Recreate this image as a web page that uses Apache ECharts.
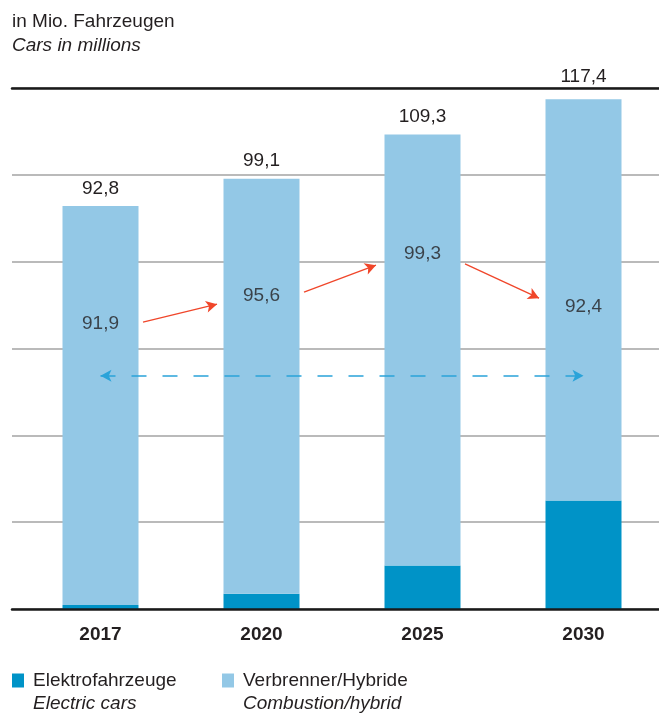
<!DOCTYPE html>
<html>
<head>
<meta charset="utf-8">
<script src="https://cdn.jsdelivr.net/npm/echarts@6/dist/echarts.min.js"></script>
<style>
  html, body { margin: 0; padding: 0; background: #fff; }
  #chart { width: 659px; height: 713px; }
</style>
</head>
<body>
<div id="chart"></div>
<script>
// Passenger car fleet in millions, split by drive type
const years = ['2017', '2020', '2025', '2030'];
const electric = [0.9, 3.5, 10.0, 25.0];
const combustion = [91.9, 95.6, 99.3, 92.4];

// Value axis ticks
const yMin = 0, yMax = 120, yStep = 20;

// Series names (German) and their English subtitles
const nameElectric = 'Elektrofahrzeuge';
const nameCombustion = 'Verbrenner/Hybride';
const englishNames = { 'Elektrofahrzeuge': 'Electric cars', 'Verbrenner/Hybride': 'Combustion/hybrid' };

// Heights (in axis units) where the combustion values are printed inside the bars
const innerLabelLevels = [65.6, 72.1, 81.8, 69.6];

// Trend arrows between the combustion values: [x, y] in axis units (x = category position)
const trendArrows = [
  [[0.264, 66.1], [0.724, 70.2]],
  [[1.264, 73.0], [1.711, 79.2]],
  [[2.264, 79.5], [2.724, 71.6]]
];
// Dashed double arrow spanning the whole period
const spanArrow = [[0, 53.7], [3, 53.7]];

const TEXT = '#231f20';
const DARK = '#0093c7';
const LIGHT = '#93c8e6';
const FONT = '"Liberation Sans", Arial, Helvetica, sans-serif';
const FS = 19;

const fmt = v => v.toFixed(1).replace('.', ',');
const totals = years.map((_, i) => +(electric[i] + combustion[i]).toFixed(1));

const chart = echarts.init(document.getElementById('chart'), null, { renderer: 'canvas' });

const legendCommon = {
  orient: 'horizontal',
  top: 671,
  padding: 0,
  icon: 'rect',
  itemWidth: 12,
  itemHeight: 14,
  selectedMode: false,
  formatter: name => '{a|' + name + '}\n{b|' + englishNames[name] + '}',
  textStyle: {
    padding: [23, 0, 0, 4],
    rich: {
      a: { fontFamily: FONT, fontSize: FS, color: TEXT, lineHeight: 23 },
      b: { fontFamily: FONT, fontSize: FS, fontStyle: 'italic', color: TEXT, lineHeight: 23 }
    }
  }
};

chart.setOption({
  animation: false,
  backgroundColor: '#ffffff',
  textStyle: { fontFamily: FONT },
  title: {
    left: 12,
    top: 10,
    padding: 0,
    text: '{a|in Mio. Fahrzeugen}\n{b|Cars in millions}',
    textStyle: {
      fontWeight: 'normal',
      rich: {
        a: { fontFamily: FONT, fontSize: FS, fontWeight: 'normal', color: TEXT, lineHeight: 24 },
        b: { fontFamily: FONT, fontSize: FS, fontWeight: 'normal', fontStyle: 'italic', color: TEXT, lineHeight: 24 }
      }
    }
  },
  legend: [
    Object.assign({}, legendCommon, { left: 12, data: [nameElectric] }),
    Object.assign({}, legendCommon, { left: 222, data: [nameCombustion] })
  ],
  grid: [
    // bars
    { left: 20, width: 644, top: 88, height: 521, outerBoundsMode: 'none' },
    // rules: top line, gridlines, baseline
    { left: 12, right: 0, top: 88, height: 521, outerBoundsMode: 'none' }
  ],
  xAxis: [
    {
      type: 'category', gridIndex: 0, data: years,
      axisLine: { show: false }, axisTick: { show: false },
      axisLabel: { margin: 16, fontFamily: FONT, fontSize: FS, fontWeight: 'bold', color: TEXT }
    },
    {
      type: 'value', gridIndex: 1, position: 'bottom', min: 0, max: 1, z: 5,
      axisLine: { show: true, lineStyle: { color: '#1a1a1a', width: 2.5 } },
      axisTick: { show: false }, axisLabel: { show: false }, splitLine: { show: false }
    },
    {
      type: 'value', gridIndex: 1, position: 'top', min: 0, max: 1, z: 5,
      axisLine: { show: true, lineStyle: { color: '#1a1a1a', width: 2.5 } },
      axisTick: { show: false }, axisLabel: { show: false }, splitLine: { show: false }
    },
    {
      type: 'value', gridIndex: 0, min: -0.5, max: 3.5, show: false
    }
  ],
  yAxis: [
    {
      type: 'value', gridIndex: 0, min: yMin, max: yMax, interval: yStep, show: false
    },
    {
      type: 'value', gridIndex: 1, min: yMin, max: yMax, interval: yStep,
      axisLine: { show: false }, axisTick: { show: false }, axisLabel: { show: false },
      splitLine: { show: true, lineStyle: { color: '#a3a3a3', width: 1.5 } }
    }
  ],
  series: [
    {
      name: nameElectric, type: 'bar', stack: 'total',
      xAxisIndex: 0, yAxisIndex: 0,
      barWidth: 76,
      itemStyle: { color: DARK },
      emphasis: { disabled: true },
      data: electric
    },
    {
      name: nameCombustion, type: 'bar', stack: 'total',
      xAxisIndex: 0, yAxisIndex: 0,
      barWidth: 76,
      itemStyle: { color: LIGHT },
      emphasis: { disabled: true },
      label: {
        show: true, position: 'top', distance: 8,
        fontFamily: FONT, fontSize: FS, color: TEXT,
        formatter: p => fmt(totals[p.dataIndex])
      },
      data: combustion.map((v, i) => i === years.length - 1
        ? { value: v, label: { distance: 13 } }
        : v)
    },
    {
      // combustion values printed inside the bars
      type: 'scatter', xAxisIndex: 3, yAxisIndex: 0,
      symbolSize: 0, silent: true, z: 4,
      label: {
        show: true, position: 'inside',
        fontFamily: FONT, fontSize: FS, color: TEXT,
        formatter: p => fmt(p.value[2])
      },
      data: combustion.map((v, i) => [i, innerLabelLevels[i], v])
    },
    {
      // red trend arrows
      type: 'line', xAxisIndex: 3, yAxisIndex: 0, data: [], z: 4,
      markLine: {
        silent: true, animation: false,
        symbol: ['none', 'arrow'], symbolSize: [9, 11],
        label: { show: false },
        emphasis: { disabled: true },
        lineStyle: { color: '#f0462a', width: 1.3, type: 'solid' },
        data: trendArrows.map(a => [{ coord: a[0] }, { coord: a[1] }])
      }
    },
    {
      // dashed double arrow across the period
      type: 'line', xAxisIndex: 3, yAxisIndex: 0, data: [], z: 4,
      markLine: {
        silent: true, animation: false,
        symbol: ['arrow', 'arrow'], symbolSize: [9, 11],
        label: { show: false },
        emphasis: { disabled: true },
        lineStyle: { color: '#2aa3d9', width: 1.6, type: [15, 16] },
        data: [[{ coord: spanArrow[0] }, { coord: spanArrow[1] }]]
      }
    }
  ]
});
</script>
</body>
</html>
